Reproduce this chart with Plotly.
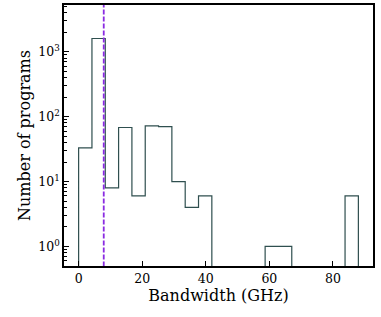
import plotly.graph_objects as go

# Histogram data (21 equal bins between 0 and 88 GHz)
bin_lo = 0.0
bin_hi = 88.0
n_bins = 21
counts = [33, 1600, 8, 68, 6, 72, 70, 10, 4, 6,
          0, 0, 0, 0, 1, 1, 0, 0, 0, 0, 6]
cutoff_ghz = 7.9
ytick_vals = [1, 10, 100, 1000]
ytick_text = ["10<sup>0</sup>", "10<sup>1</sup>", "10<sup>2</sup>", "10<sup>3</sup>"]
xtick_vals = [0, 20, 40, 60, 80]

w = (bin_hi - bin_lo) / n_bins
edges = [bin_lo + i * w for i in range(n_bins + 1)]
floor = 1e-3
ys = [floor] + [c if c > 0 else floor for c in counts] + [floor]
xs = [edges[0]] + edges[:-1] + [edges[-1]]

fig = go.Figure()
fig.add_trace(go.Scatter(x=xs, y=ys, mode="lines", line=dict(shape="hv", color="#2f4f4f", width=1.2),
                         hoverinfo="skip", showlegend=False))
fig.add_trace(go.Scatter(x=[cutoff_ghz, cutoff_ghz], y=[0.3, 20000], mode="lines",
                         line=dict(color="#8a2be2", width=1.8, dash="5px,2px"), showlegend=False,
                         hoverinfo="skip"))

font = "'DejaVu Serif', 'Liberation Serif', serif"
minor_vals = []
for d in [0.1, 1, 10, 100, 1000]:
    for k in range(2, 10):
        minor_vals.append(k * d)

fig.update_layout(
    width=381, height=317,
    margin=dict(l=64, r=8, t=5, b=51),
    plot_bgcolor="white", paper_bgcolor="white",
    font=dict(family=font, size=12, color="black"),
    xaxis=dict(range=[-4.6, 92.6], tickvals=xtick_vals, ticks="inside", ticklen=5, tickwidth=1,
               tickcolor="black", automargin=False,
               showgrid=False, zeroline=False, showline=True, linecolor="black", linewidth=1.5,
               mirror=True, title=dict(text="Bandwidth (GHz)", font=dict(size=16), standoff=2),
               tickfont=dict(size=12.5)),
    yaxis=dict(type="log", range=[-0.301, 3.72], tickvals=ytick_vals, ticktext=ytick_text,
               ticks="inside", ticklen=5, tickwidth=1, tickcolor="black", automargin=False,
               minor=dict(tickvals=minor_vals, ticks="inside", ticklen=3, tickwidth=0.8,
                          tickcolor="black", showgrid=False),
               showgrid=False, zeroline=False, showline=True, linecolor="black", linewidth=1.5,
               mirror=True, title=dict(text="Number of programs", font=dict(size=16), standoff=4),
               tickfont=dict(size=12.5)),
)
fig.write_html("out.html", config={"displayModeBar": False},
               post_script="document.body.style.margin='0';document.body.style.overflow='hidden';")
